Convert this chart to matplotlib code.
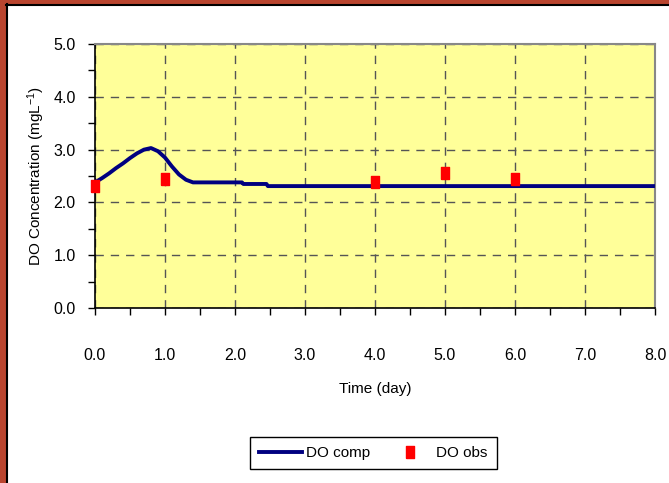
import numpy as np
import matplotlib.pyplot as plt
from matplotlib.patches import Rectangle
from matplotlib.lines import Line2D
from matplotlib.ticker import MultipleLocator

plt.rcParams['font.family'] = ['Liberation Sans', 'DejaVu Sans']
plt.rcParams['mathtext.fontset'] = 'custom'
plt.rcParams['mathtext.rm'] = 'Liberation Sans'
plt.rcParams['mathtext.it'] = 'Liberation Sans'

# computed DO
t_comp = [0.0, 0.1, 0.2, 0.3, 0.4, 0.5, 0.6, 0.7, 0.8, 0.9, 1.0, 1.1, 1.2, 1.3, 1.4,
          2.1, 2.12, 2.45, 2.47, 8.0]
do_comp = [2.38, 2.46, 2.55, 2.65, 2.74, 2.84, 2.93, 3.0, 3.03, 2.97, 2.85, 2.68, 2.53, 2.43, 2.38,
           2.38, 2.35, 2.35, 2.31, 2.31]

# observed DO
t_obs = [0.0, 1.0, 4.0, 5.0, 6.0]
do_obs = [2.31, 2.44, 2.39, 2.56, 2.44]

xticks = np.arange(0, 8.5, 1.0)
yticks = np.arange(0, 5.5, 1.0)

fig = plt.figure(figsize=(6.69, 4.83), dpi=100)
ax = fig.add_axes([0.142, 0.362, 0.837, 0.547])
ax.set_facecolor('#FFFF99')

# tall rectangle marker like the excel one
rect = [(-0.75, -1), (0.75, -1), (0.75, 1), (-0.75, 1), (-0.75, -1)]

ax.plot(t_comp, do_comp, color='#000080', lw=2.8, zorder=3, solid_capstyle='butt')
ax.plot(t_obs, do_obs, ls='none', marker=rect, ms=8.5, color='#FF0000', mec='#FF0000', zorder=4,
        clip_on=False)

ax.set_xlim(0, 8)
ax.set_ylim(0, 5)
ax.set_xticks(xticks)
ax.set_yticks(yticks)
ax.set_xticklabels(['%.1f' % v for v in xticks])
ax.set_yticklabels(['%.1f' % v for v in yticks])
ax.xaxis.set_minor_locator(MultipleLocator(0.5))
ax.yaxis.set_minor_locator(MultipleLocator(0.5))
ax.tick_params(which='both', direction='out', length=5, width=1, color='black', labelsize=11.5)
ax.tick_params(axis='x', which='major', pad=24)
ax.tick_params(axis='y', which='major', pad=9)

ax.grid(True, which='major', ls=(0, (6, 5)), color='#555555', lw=1)
for s in ['top', 'right']:
    ax.spines[s].set_color('#888888')
    ax.spines[s].set_linewidth(1.5)
for s in ['left', 'bottom']:
    ax.spines[s].set_color('black')
    ax.spines[s].set_linewidth(1.2)

ax.set_xlabel('Time (day)', fontsize=11)
ax.set_ylabel('DO Concentration (mgL$^{\\mathregular{-1}}$)', fontsize=11)
ax.xaxis.set_label_coords(0.5, -0.28)
ax.yaxis.set_label_coords(-0.086, 0.5)

handles = [Line2D([], [], color='#000080', lw=2.8),
           Line2D([], [], ls='none', marker=rect, ms=8.5, color='#FF0000')]
fig.legend(handles, ['DO comp', 'DO obs'], loc='center', bbox_to_anchor=(0.558, 0.062),
           ncol=2, fontsize=11, frameon=True, fancybox=False, edgecolor='black',
           framealpha=1, handlelength=2.8, handletextpad=0.3, columnspacing=1.2, borderpad=0.6)

# red frame on left and top
fig.add_artist(Rectangle((0, 0), 6 / 669, 1, transform=fig.transFigure, color='#B9452F', lw=0))
fig.add_artist(Rectangle((0, 1 - 4 / 483), 1, 4 / 483, transform=fig.transFigure, color='#B9452F', lw=0))
fig.add_artist(Line2D([7 / 669, 7 / 669], [0, 1 - 4 / 483], transform=fig.transFigure, color='black', lw=1.5))
fig.add_artist(Line2D([6 / 669, 1], [1 - 5 / 483, 1 - 5 / 483], transform=fig.transFigure, color='black', lw=1.5))

fig.savefig('out.png', dpi=100)
